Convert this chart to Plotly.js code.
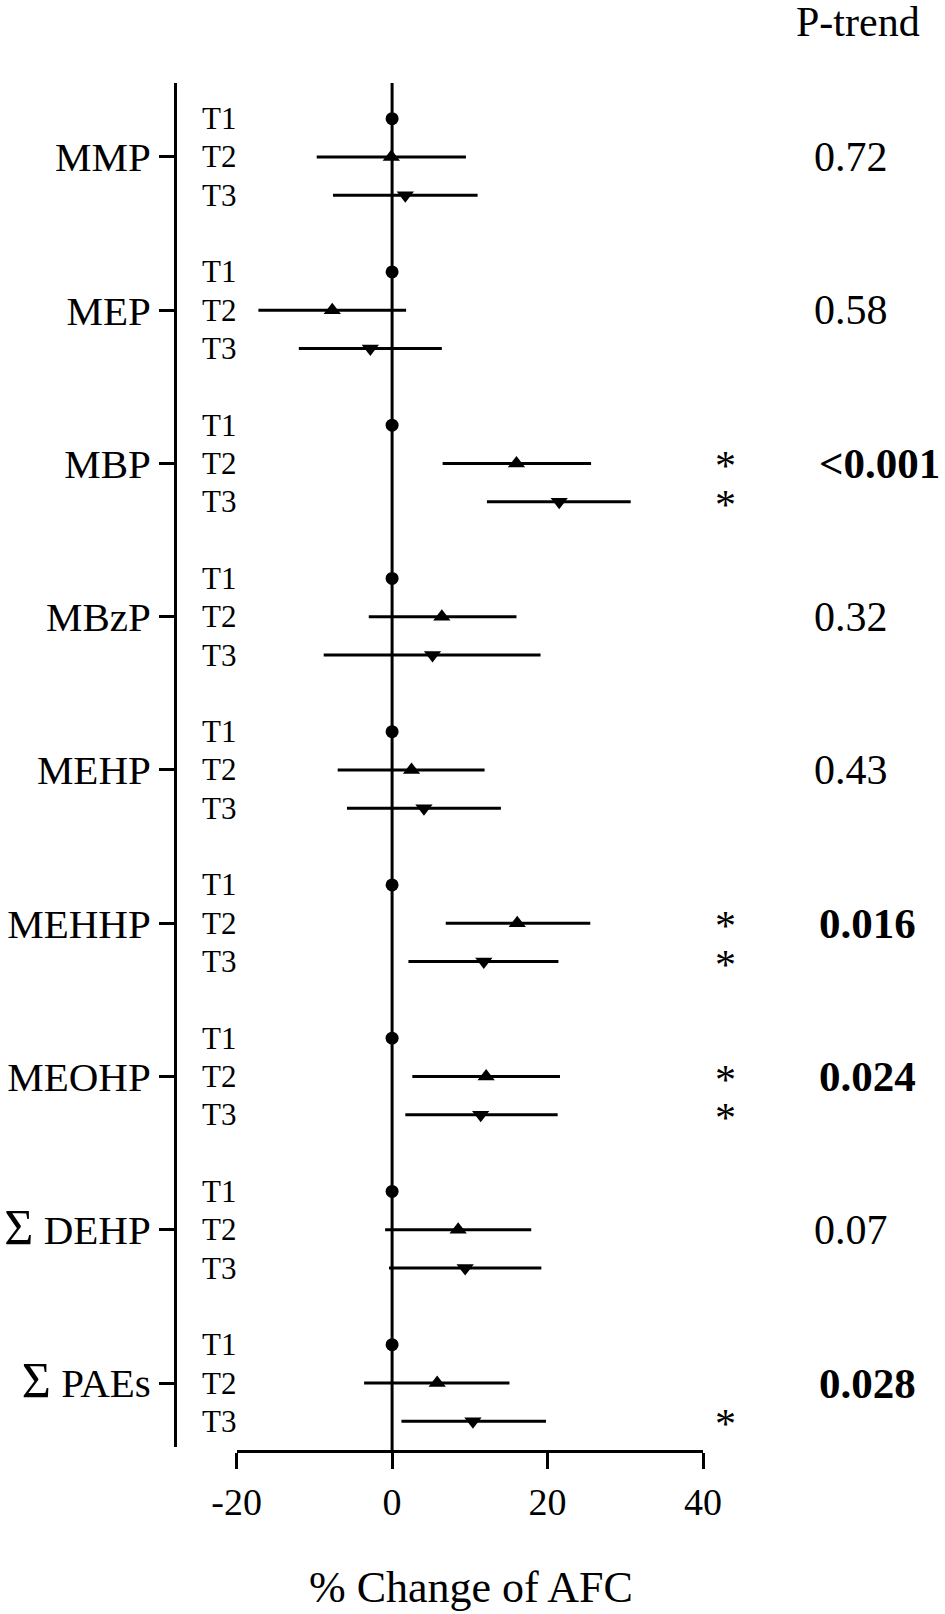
<!DOCTYPE html>
<html>
<head>
<meta charset="utf-8">
<script src="https://cdn.plot.ly/plotly-3.0.1.min.js"></script>
<style>html,body{margin:0;padding:0;background:#fff;}#chart{width:945px;height:1614px;}</style>
</head>
<body>
<div id="chart"></div>
<script>
// ---- data ----
var groups = ['MMP', 'MEP', 'MBP', 'MBzP', 'MEHP', 'MEHHP', 'MEOHP', 'ΣDEHP', 'ΣPAEs'];
var groupLabels = ['MMP', 'MEP', 'MBP', 'MBzP', 'MEHP', 'MEHHP', 'MEOHP',
  '<span style="font-size:50px">Σ</span> DEHP', '<span style="font-size:50px">Σ</span> PAEs'];
var tierLabels = ['T1', 'T2', 'T3'];
var t1Est = [0, 0, 0, 0, 0, 0, 0, 0, 0];
var t2Est = [-0.1, -7.7, 16.0, 6.4, 2.5, 16.1, 12.1, 8.5, 5.8];
var t2Lo  = [-9.7, -17.2, 6.5, -3.0, -7.0, 6.9, 2.6, -0.9, -3.6];
var t2Hi  = [9.5, 1.8, 25.6, 16.0, 11.9, 25.5, 21.6, 17.9, 15.1];
var t3Est = [1.7, -2.8, 21.5, 5.2, 4.1, 11.8, 11.4, 9.4, 10.4];
var t3Lo  = [-7.6, -12.0, 12.2, -8.8, -5.8, 2.1, 1.7, -0.4, 1.2];
var t3Hi  = [11.0, 6.4, 30.7, 19.1, 14.0, 21.4, 21.3, 19.2, 19.8];
var pTrend = ['0.72', '0.58', '<0.001', '0.32', '0.43', '0.016', '0.024', '0.07', '0.028'];
var pBold  = [false, false, true, false, false, true, true, false, true];
var t2Star = [false, false, true, false, false, true, true, false, false];
var t3Star = [false, false, true, false, false, true, true, false, true];
var xTicks = [-20, 0, 20, 40];
var xTitle = '% Change of AFC';

// ---- layout helpers ----
var FONT = 'Liberation Serif, Times New Roman, serif';
function rowY(g, r) { return g * 4 + r; }
var yT1 = groups.map(function (_, g) { return rowY(g, 0); });
var yT2 = groups.map(function (_, g) { return rowY(g, 1); });
var yT3 = groups.map(function (_, g) { return rowY(g, 2); });

var ML = 175, MR = 241.5, MT = 82.7, MB = 163, W = 945, H = 1614;
var PW = W - ML - MR, PH = H - MT - MB;
function px2paperX(px) { return (px - ML) / PW; }
function px2paperY(py) { return (H - MB - py) / PH; }

var errStyle = { type: 'data', symmetric: false, width: 0, thickness: 3, color: '#000' };

var traces = [
  { type: 'scatter', mode: 'markers', x: t1Est, y: yT1, cliponaxis: false,
    marker: { symbol: 'circle', size: 13, color: '#000' }, showlegend: false, hoverinfo: 'skip' },
  { type: 'scatter', mode: 'markers', x: t2Est, y: yT2, cliponaxis: false,
    marker: { symbol: 'triangle-up', size: 15, color: '#000' },
    error_x: Object.assign({}, errStyle, {
      array: t2Est.map(function (v, i) { return t2Hi[i] - v; }),
      arrayminus: t2Est.map(function (v, i) { return v - t2Lo[i]; }) }),
    showlegend: false, hoverinfo: 'skip' },
  { type: 'scatter', mode: 'markers', x: t3Est, y: yT3, cliponaxis: false,
    marker: { symbol: 'triangle-down', size: 15, color: '#000' },
    error_x: Object.assign({}, errStyle, {
      array: t3Est.map(function (v, i) { return t3Hi[i] - v; }),
      arrayminus: t3Est.map(function (v, i) { return v - t3Lo[i]; }) }),
    showlegend: false, hoverinfo: 'skip' }
];

var annotations = [];
// tier labels
groups.forEach(function (_, g) {
  tierLabels.forEach(function (t, r) {
    annotations.push({ xref: 'paper', yref: 'y', x: px2paperX(200), y: rowY(g, r),
      xanchor: 'left', yanchor: 'middle', text: t, showarrow: false,
      font: { family: FONT, size: 31, color: '#000' } });
  });
});
// significance stars
function star(g, r) {
  return { xref: 'paper', yref: 'y', x: px2paperX(726), y: rowY(g, r),
    xanchor: 'center', yanchor: 'middle', yshift: 5, height: 30, valign: 'top',
    text: '*', showarrow: false, font: { family: FONT, size: 42, color: '#000' } };
}
groups.forEach(function (_, g) {
  if (t2Star[g]) annotations.push(star(g, 1));
  if (t3Star[g]) annotations.push(star(g, 2));
});
// p-trend values
groups.forEach(function (_, g) {
  annotations.push({ xref: 'paper', yref: 'y', x: px2paperX(pBold[g] ? 818 : 813), y: rowY(g, 1),
    xanchor: 'left', yanchor: 'middle', showarrow: false,
    text: pBold[g] ? '<b>' + pTrend[g].replace('<', '&lt;') + '</b>' : pTrend[g],
    font: { family: FONT, size: pBold[g] ? 43 : 42, color: '#000' } });
});
// header
annotations.push({ xref: 'paper', yref: 'paper', x: px2paperX(859), y: px2paperY(22),
  xanchor: 'center', yanchor: 'middle', text: 'P-trend', showarrow: false,
  font: { family: FONT, size: 42, color: '#000' } });
// x-axis title
annotations.push({ xref: 'paper', yref: 'paper', x: px2paperX(471), y: px2paperY(1588),
  xanchor: 'center', yanchor: 'middle', text: xTitle, showarrow: false,
  font: { family: FONT, size: 44, color: '#000' } });

var layout = {
  width: W, height: H,
  margin: { l: ML, r: MR, t: MT, b: MB, pad: 0 },
  paper_bgcolor: '#fff', plot_bgcolor: 'rgba(0,0,0,0)',
  showlegend: false,
  font: { family: FONT, color: '#000' },
  xaxis: {
    domain: [px2paperX(236.7), 1], range: [-20, 40], autorange: false,
    anchor: 'free', position: 0,
    tickmode: 'array', tickvals: xTicks, ticktext: xTicks.map(String),
    ticks: 'outside', ticklen: 16, tickwidth: 3, tickcolor: '#000',
    showline: true, linewidth: 3, linecolor: '#000',
    showgrid: false, zeroline: false,
    tickfont: { family: FONT, size: 38, color: '#000' }
  },
  yaxis: {
    domain: [px2paperY(1447), 1], range: [34.67, -0.93], autorange: false,
    anchor: 'free', position: 0,
    tickmode: 'array', tickvals: yT2, ticktext: groupLabels,
    ticks: 'outside', ticklen: 15, tickwidth: 3, tickcolor: '#000',
    showline: true, linewidth: 3, linecolor: '#000',
    showgrid: false, zeroline: false,
    tickfont: { family: FONT, size: 41, color: '#000' }
  },
  shapes: [
    { type: 'line', xref: 'x', yref: 'paper', x0: 0, x1: 0, y0: 0, y1: 1, layer: 'below',
      line: { color: '#000', width: 3 } }
  ],
  annotations: annotations
};

Plotly.newPlot('chart', traces, layout, { staticPlot: true, displayModeBar: false });
</script>
</body>
</html>
